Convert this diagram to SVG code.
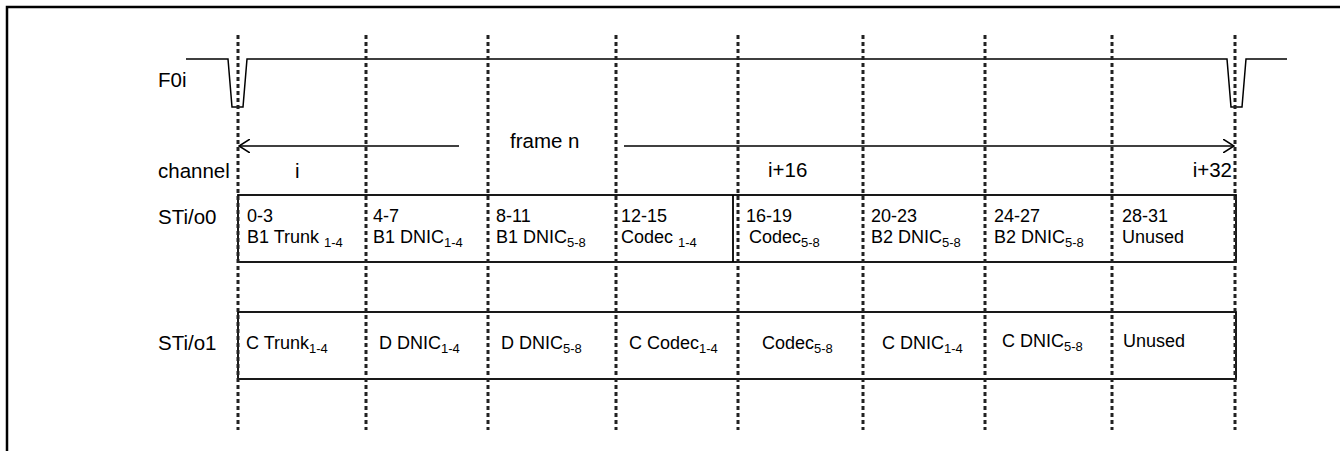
<svg xmlns="http://www.w3.org/2000/svg" width="1340" height="451" viewBox="0 0 1340 451">
<defs>
<style>
text{font-family:"Liberation Sans",Arial,sans-serif;fill:#000}
.lbl{font-size:20.5px}
.cell{font-size:18px}
.sub{font-size:13px}
.grid{stroke:#222;stroke-width:3;stroke-dasharray:4 3;fill:none}
.sig{stroke:#000;stroke-width:1.5;fill:none}
.box{stroke:#000;stroke-width:1.8;fill:none}
</style>
<marker id="ah" viewBox="0 0 12 14" refX="11" refY="7" markerWidth="12" markerHeight="14" markerUnits="userSpaceOnUse" orient="auto">
<path d="M0,0 L11,7 L0,14" fill="none" stroke="#000" stroke-width="1.5"/>
</marker>
</defs>
<rect width="1340" height="451" fill="#fff"/>
<path d="M7,451 V7 H1340" fill="none" stroke="#000" stroke-width="2.5"/>

<g id="labels">
<text class="lbl" x="158" y="87">F0i</text>
<text class="lbl" x="158" y="178">channel</text>
<text class="lbl" x="158" y="224">STi/o0</text>
<text class="lbl" x="158" y="350">STi/o1</text>
<text class="lbl" x="295" y="178">i</text>
<text class="lbl" x="510" y="148">frame n</text>
<text class="lbl" x="768" y="177">i+16</text>
<text class="lbl" x="1232" y="177" text-anchor="end">i+32</text>
</g>

<g id="F0i-signal">
<path class="sig" d="M186,59 H228 L232,107 H243 L247,59 H1227 L1231,107 H1242 L1246,59 H1287"/>
</g>

<g id="STi-o0">
<rect class="box" x="238" y="195" width="998" height="67"/>
<line class="box" x1="733" y1="195" x2="733" y2="262"/>
<text class="cell" x="247" y="222">0-3</text>
<text class="cell" x="247" y="243">B1 Trunk <tspan class="sub" dy="4">1-4</tspan></text>
<text class="cell" x="373" y="222">4-7</text>
<text class="cell" x="373" y="243">B1 DNIC<tspan class="sub" dy="4">1-4</tspan></text>
<text class="cell" x="496" y="222">8-11</text>
<text class="cell" x="496" y="243">B1 DNIC<tspan class="sub" dy="4">5-8</tspan></text>
<text class="cell" x="621" y="222">12-15</text>
<text class="cell" x="621" y="243">Codec <tspan class="sub" dy="4">1-4</tspan></text>
<text class="cell" x="746" y="222">16-19</text>
<text class="cell" x="749" y="243">Codec<tspan class="sub" dy="4">5-8</tspan></text>
<text class="cell" x="871" y="222">20-23</text>
<text class="cell" x="871" y="243">B2 DNIC<tspan class="sub" dy="4">5-8</tspan></text>
<text class="cell" x="994" y="222">24-27</text>
<text class="cell" x="994" y="243">B2 DNIC<tspan class="sub" dy="4">5-8</tspan></text>
<text class="cell" x="1122" y="222">28-31</text>
<text class="cell" x="1122" y="243">Unused</text>
</g>

<g id="STi-o1">
<rect class="box" x="238" y="312" width="998" height="67"/>
<text class="cell" x="246" y="349">C Trunk<tspan class="sub" dy="4">1-4</tspan></text>
<text class="cell" x="379" y="349">D DNIC<tspan class="sub" dy="4">1-4</tspan></text>
<text class="cell" x="501" y="349">D DNIC<tspan class="sub" dy="4">5-8</tspan></text>
<text class="cell" x="629" y="349">C Codec<tspan class="sub" dy="4">1-4</tspan></text>
<text class="cell" x="762" y="349">Codec<tspan class="sub" dy="4">5-8</tspan></text>
<text class="cell" x="882" y="349">C DNIC<tspan class="sub" dy="4">1-4</tspan></text>
<text class="cell" x="1002" y="347">C DNIC<tspan class="sub" dy="4">5-8</tspan></text>
<text class="cell" x="1123" y="347">Unused</text>
</g>

<g id="connectors">
<line class="sig" x1="459" y1="146" x2="239" y2="146" marker-end="url(#ah)"/>
<line class="sig" x1="624" y1="146" x2="1234" y2="146" marker-end="url(#ah)"/>
<g class="grid">
<line x1="238" y1="35" x2="238" y2="430"/>
<line x1="366" y1="35" x2="366" y2="430"/>
<line x1="488" y1="35" x2="488" y2="430"/>
<line x1="616" y1="35" x2="616" y2="430"/>
<line x1="738" y1="35" x2="738" y2="430"/>
<line x1="863" y1="35" x2="863" y2="430"/>
<line x1="985" y1="35" x2="985" y2="430"/>
<line x1="1112" y1="35" x2="1112" y2="430"/>
<line x1="1235" y1="35" x2="1235" y2="430"/>
</g>
</g>
</svg>
